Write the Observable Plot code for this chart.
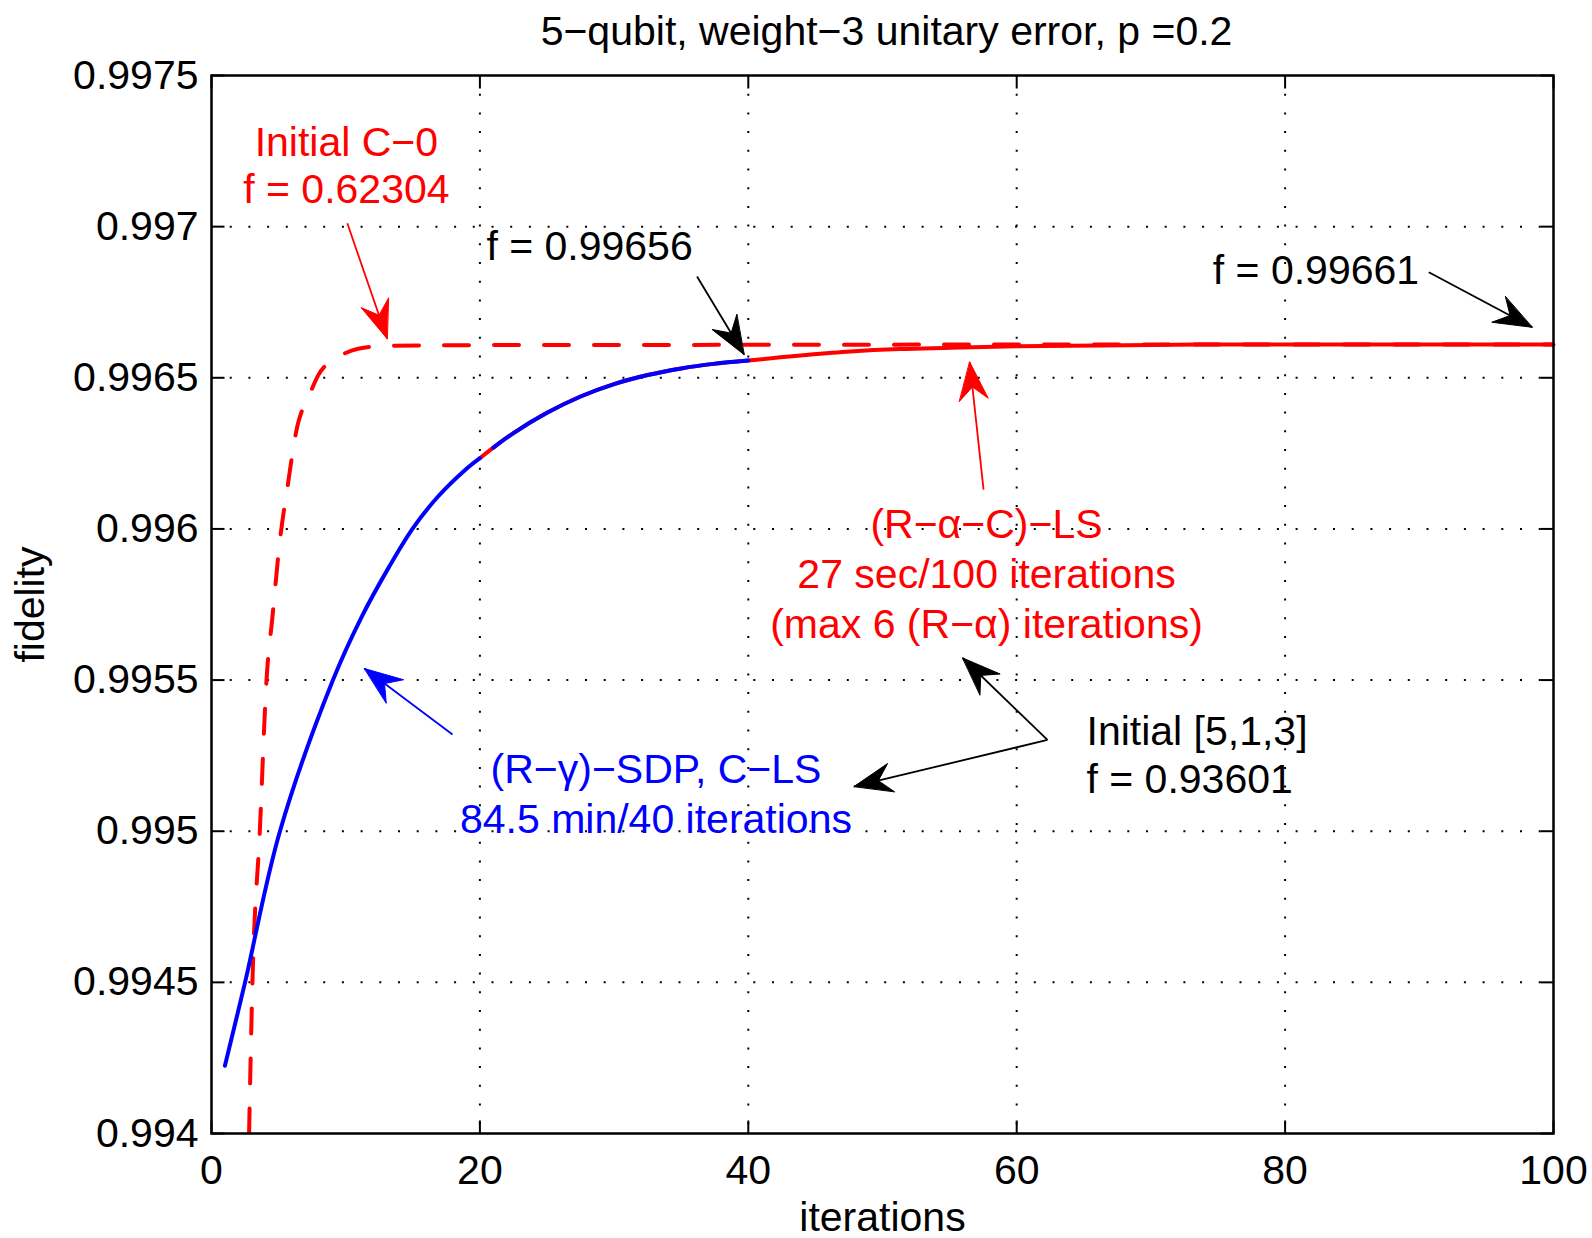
<!DOCTYPE html>
<html><head><meta charset="utf-8">
<script src="https://cdn.jsdelivr.net/npm/d3@7"></script>
<script src="https://cdn.jsdelivr.net/npm/@observablehq/plot@0.6"></script>
<style>html,body{margin:0;padding:0;background:#fff;} svg{display:block}</style>
</head><body><div id="chart"></div>
<script>
const titleText = "5−qubit, weight−3 unitary error, p =0.2";
const xLabel = "iterations";
const yLabel = "fidelity";
const xTicks = [0, 20, 40, 60, 80, 100];
const yTicks = [0.994, 0.9945, 0.995, 0.9955, 0.996, 0.9965, 0.997, 0.9975];
const xDomain = [0, 100];
const yDomain = [0.994, 0.9975];

// (R−γ)−SDP, C−LS (blue), drawn in two pieces
const iterRG1 = [1, 2.5, 5.1, 9.05, 11.2, 13.2, 15.0, 16.9, 18.9, 20.0];
const fidRG1  = [0.994224, 0.9945, 0.995, 0.9955, 0.99571, 0.995872, 0.996002, 0.996108, 0.996195, 0.996234];
const iterRG2 = [21.0, 22.5, 25.0, 27.5, 30.0, 32.5, 35.0, 37.4, 40.0];
const fidRG2  = [0.996269, 0.996317, 0.996384, 0.996438, 0.996479, 0.996509, 0.996531, 0.996546, 0.996557];

// (R−α−C)−LS (red solid)
const iterRAC = [20, 21, 22.5, 25, 27.5, 30, 32.5, 35, 37.4, 40, 42.4, 43.9, 47.6, 51.3, 55.1, 60, 66.2, 73.6, 80, 90, 100];
const fidRAC  = [0.996234, 0.996269, 0.996317, 0.996384, 0.996438, 0.996479, 0.996509, 0.996531, 0.996546, 0.996557, 0.996568, 0.996574, 0.996587, 0.996595, 0.996599, 0.996604, 0.996607, 0.99661, 0.99661, 0.99661, 0.99661];

// Initial C−0 (red dashed)
const iterC0 = [2.8, 3.05, 3.6, 4.1, 4.55, 5.1, 5.66, 6.33, 7.33, 7.95, 9.44, 10.93, 13.04, 20, 40, 60, 80, 100];
const fidC0  = [0.994, 0.9945, 0.995, 0.9955, 0.995713, 0.995962, 0.996138, 0.996326, 0.996447, 0.996508, 0.996568, 0.996596, 0.996606, 0.996608, 0.996609, 0.99661, 0.99661, 0.99661];

// annotations (anchor = baseline of last line)
const noteText = ["Initial C−0\nf = 0.62304", "f = 0.99656", "f = 0.99661",
  "(R−α−C)−LS\n27 sec/100 iterations\n(max 6 (R−α) iterations)",
  "Initial [5,1,3]\nf = 0.93601", "(R−γ)−SDP, C−LS\n84.5 min/40 iterations"];
const noteX = [10.05, 28.17, 82.3, 57.75, 65.2, 33.12];
const noteY = [0.997077, 0.996888, 0.996811, 0.995638, 0.995128, 0.994994];
const noteColor = ["red", "black", "black", "red", "black", "blue"];
const noteAnchor = ["middle", "middle", "middle", "middle", "start", "middle"];
const noteLineHeight = [1.15, 1, 1, 1.22, 1.15, 1.21];

// arrows: tail (x1,y1) -> tip (x2,y2)
const arrowX1 = [10.12, 36.18, 90.71, 57.53, 62.29, 62.29, 17.96];
const arrowY1 = [0.997011, 0.996835, 0.996849, 0.99613, 0.995302, 0.995302, 0.99532];
const arrowX2 = [13.09, 39.68, 98.41, 56.5, 55.98, 47.88, 11.4];
const arrowY2 = [0.996629, 0.996577, 0.996667, 0.996552, 0.995573, 0.995148, 0.995538];
const arrowColor = ["red", "black", "black", "red", "black", "black", "blue"];

const W = 1592, H = 1238, mL = 211, mR = 39, mT = 75, mB = 105;
const FONT = "Liberation Sans, Arial, Helvetica, sans-serif";
const FS = 41;

const sx = Plot.scale({x: {domain: xDomain, range: [mL, W - mR]}});
const sy = Plot.scale({y: {domain: yDomain, range: [H - mB, mT]}});

const zip = (xs, ys) => xs.map((x, i) => ({x, y: ys[i]}));
const rg1 = zip(iterRG1, fidRG1), rg2 = zip(iterRG2, fidRG2);
const rac = zip(iterRAC, fidRAC), c0 = zip(iterC0, fidC0);

const tick = 13;
const xTickBottom = sy.invert(H - mB - tick), xTickTop = sy.invert(mT + tick);
const yTickLeft = sx.invert(mL + tick), yTickRight = sx.invert(W - mR - tick);

function headPts(i) {
  const tx = sx.apply(arrowX2[i]), ty = sy.apply(arrowY2[i]);
  const bx = sx.apply(arrowX1[i]), by = sy.apply(arrowY1[i]);
  let ux = tx - bx, uy = ty - by; const len = Math.hypot(ux, uy); ux /= len; uy /= len;
  const nx = -uy, ny = ux, L = 38, Wd = 14.5, N = 25;
  const pts = [[tx, ty], [tx - ux * L + nx * Wd, ty - uy * L + ny * Wd], [tx - ux * N, ty - uy * N], [tx - ux * L - nx * Wd, ty - uy * L - ny * Wd]];
  return pts.map(([px, py]) => ({x: sx.invert(px), y: sy.invert(py)}));
}

const marks = [
  Plot.ruleX(xTicks.slice(1, -1), {stroke: "black", strokeWidth: 2, strokeDasharray: "2,16.7"}),
  Plot.ruleY(yTicks.slice(1, -1), {stroke: "black", strokeWidth: 2, strokeDasharray: "2,16.7"}),
  Plot.link(xTicks, {x1: d => d, x2: d => d, y1: yDomain[0], y2: xTickBottom, stroke: "black", strokeWidth: 2}),
  Plot.link(xTicks, {x1: d => d, x2: d => d, y1: yDomain[1], y2: xTickTop, stroke: "black", strokeWidth: 2}),
  Plot.link(yTicks, {y1: d => d, y2: d => d, x1: xDomain[0], x2: yTickLeft, stroke: "black", strokeWidth: 2}),
  Plot.link(yTicks, {y1: d => d, y2: d => d, x1: xDomain[1], x2: yTickRight, stroke: "black", strokeWidth: 2}),
  Plot.line(c0, {x: "x", y: "y", stroke: "red", strokeWidth: 4, strokeDasharray: "25,25", curve: "monotone-x", clip: true}),
  Plot.line(rac, {x: "x", y: "y", stroke: "red", strokeWidth: 4, curve: "catmull-rom"}),
  Plot.line(rg1, {x: "x", y: "y", stroke: "blue", strokeWidth: 4, curve: "catmull-rom"}),
  Plot.line(rg2, {x: "x", y: "y", stroke: "blue", strokeWidth: 4, curve: "catmull-rom"}),
  Plot.frame({stroke: "black", strokeWidth: 2.5}),
  Plot.text(xTicks, {x: d => d, text: d => String(d), frameAnchor: "bottom", dy: 21, lineAnchor: "top", fontSize: FS, fontFamily: FONT, fill: "black"}),
  Plot.text(yTicks, {y: d => d, text: d => String(d), frameAnchor: "left", dx: -13, textAnchor: "end", fontSize: FS, fontFamily: FONT, fill: "black"}),
  Plot.text([titleText], {frameAnchor: "top", dy: -31, dx: 4, lineAnchor: "bottom", fontSize: FS, fontFamily: FONT, fill: "black"}),
  Plot.text([xLabel], {frameAnchor: "bottom", dy: 97, lineAnchor: "bottom", fontSize: FS, fontFamily: FONT, fill: "black"}),
  Plot.text([yLabel], {frameAnchor: "left", dx: -168, rotate: -90, textAnchor: "middle", lineAnchor: "bottom", fontSize: FS, fontFamily: FONT, fill: "black"})
];

arrowX1.forEach((_, i) => {
  marks.push(Plot.link([i], {x1: d => arrowX1[d], y1: d => arrowY1[d], x2: d => arrowX2[d], y2: d => arrowY2[d], stroke: arrowColor[i], strokeWidth: 1.8}));
  marks.push(Plot.line(headPts(i), {x: "x", y: "y", fill: arrowColor[i], stroke: arrowColor[i], strokeWidth: 1, curve: "linear-closed"}));
});
noteText.forEach((t, i) => {
  marks.push(Plot.text([i], {x: d => noteX[d], y: d => noteY[d], text: d => noteText[d], fill: noteColor[i], textAnchor: noteAnchor[i], lineAnchor: "bottom", lineHeight: noteLineHeight[i], fontSize: FS, fontFamily: FONT}));
});

const chart = Plot.plot({
  width: W, height: H,
  marginLeft: mL, marginRight: mR, marginTop: mT, marginBottom: mB,
  x: {domain: xDomain, axis: null},
  y: {domain: yDomain, axis: null},
  style: {background: "white", fontFamily: FONT, fontSize: "41px"},
  marks
});
document.getElementById("chart").appendChild(chart);
</script>
</body></html>
